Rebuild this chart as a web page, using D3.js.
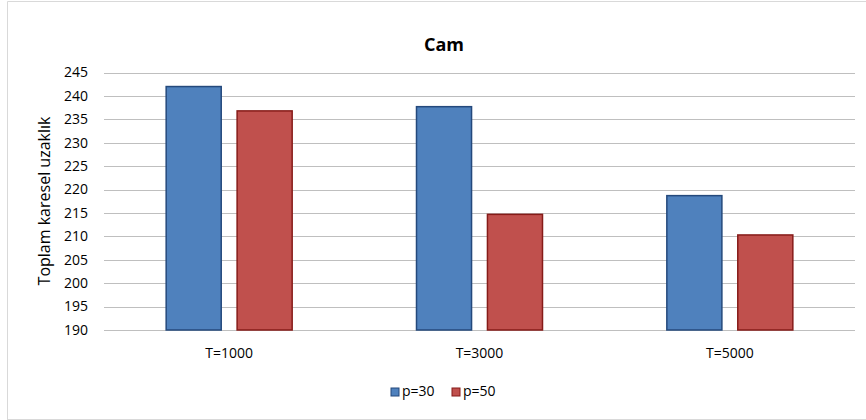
<!DOCTYPE html>
<head>
<meta charset="utf-8">
<title>Cam</title>
<style>
body { margin: 0; background: #fff; }
text { font-family: "Open Sans", "DejaVu Sans", sans-serif; fill: #000; }
.grid line { stroke: #bfbfbf; stroke-width: 1px; }
</style>
</head>
<body>
<script src="https://cdn.jsdelivr.net/npm/d3@7/dist/d3.min.js"></script>
<script>
// data
var categories = ["T=1000", "T=3000", "T=5000"];
var seriesNames = ["p=30", "p=50"];
var p30 = [242.0, 237.7, 218.7];
var p50 = [236.8, 214.7, 210.3];
var yTicks = [190, 195, 200, 205, 210, 215, 220, 225, 230, 235, 240, 245];

var width = 866, height = 420;
var plot = {left: 104, right: 855, top: 72.5, bottom: 330};
var fills = ["#4f81bd", "#c0504d"];
var strokes = ["#24497c", "#861b18"];

var svg = d3.select("body").append("svg")
    .attr("width", width)
    .attr("height", height);

// chart frame
svg.append("path")
    .attr("d", "M7.5,420 V1.5 H866")
    .attr("fill", "none")
    .attr("stroke", "#d9d9d9");
svg.append("line")
    .attr("x1", 7).attr("x2", 866)
    .attr("y1", 419.5).attr("y2", 419.5)
    .attr("stroke", "#d9d9d9");

var y = d3.scaleLinear().domain([190, 245]).range([plot.bottom, plot.top]);
var x0 = d3.scaleBand().domain(categories).range([plot.left, plot.right]);
var x1 = d3.scaleBand().domain(seriesNames).range([0, 127]).paddingInner(0.21);

// gridlines
svg.append("g")
    .attr("class", "grid")
    .selectAll("line")
    .data(yTicks)
    .enter().append("line")
    .attr("x1", plot.left).attr("x2", plot.right)
    .attr("y1", d => Math.round(y(d)) + 0.5)
    .attr("y2", d => Math.round(y(d)) + 0.5);

// y tick labels
svg.append("g").selectAll("text")
    .data(yTicks)
    .enter().append("text")
    .attr("x", 88)
    .attr("y", d => y(d))
    .attr("dy", "0.35em")
    .attr("text-anchor", "end")
    .style("font-size", "14px")
    .text(d => d);

// bars
var rows = categories.map((c, i) => ({cat: c, vals: [p30[i], p50[i]]}));
var group = svg.append("g").selectAll("g")
    .data(rows)
    .enter().append("g")
    .attr("transform", d => "translate(" + (x0(d.cat) + (x0.bandwidth() - 127) / 2) + ",0)");

group.selectAll("rect")
    .data(d => d.vals.map((v, j) => ({name: seriesNames[j], value: v, j: j})))
    .enter().append("rect")
    .attr("x", d => x1(d.name) + 0.5)
    .attr("y", d => y(d.value))
    .attr("width", x1.bandwidth() - 1)
    .attr("height", d => plot.bottom - y(d.value))
    .attr("fill", d => fills[d.j])
    .attr("stroke", d => strokes[d.j])
    .attr("stroke-width", 1.5);

// x labels
svg.append("g").selectAll("text")
    .data(categories)
    .enter().append("text")
    .attr("x", d => x0(d) + x0.bandwidth() / 2)
    .attr("y", 358)
    .attr("text-anchor", "middle")
    .style("font-size", "14px")
    .text(d => d);

// title
svg.append("text")
    .attr("x", 444)
    .attr("y", 51)
    .attr("text-anchor", "middle")
    .style("font-size", "18px")
    .style("font-weight", "bold")
    .text("Cam");

// y axis title
svg.append("text")
    .attr("transform", "translate(50,201) rotate(-90)")
    .attr("text-anchor", "middle")
    .style("font-size", "16px")
    .text("Toplam karesel uzaklık");

// legend
var legendX = [391, 452];
var legend = svg.append("g").selectAll("g")
    .data(seriesNames)
    .enter().append("g")
    .attr("transform", (d, i) => "translate(" + legendX[i] + ",388)");
legend.append("rect")
    .attr("width", 8).attr("height", 8)
    .attr("fill", (d, i) => fills[i])
    .attr("stroke", (d, i) => strokes[i]);
legend.append("text")
    .attr("x", 11)
    .attr("y", 8)
    .style("font-size", "14px")
    .text(d => d);
</script>
</body>
</html>
